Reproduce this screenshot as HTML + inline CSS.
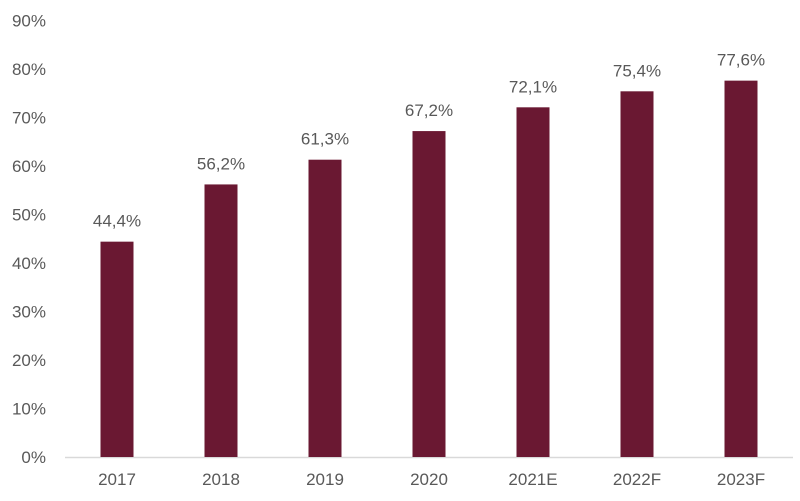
<!DOCTYPE html>
<html><head><meta charset="utf-8"><style>
body{margin:0;background:#fff;}
svg text{font-family:"Liberation Sans",sans-serif;fill:#595959;font-size:17px;}
</style></head><body>
<svg id="chart" width="800" height="496" xmlns="http://www.w3.org/2000/svg"></svg>
<script>
const categories=["2017","2018","2019","2020","2021E","2022F","2023F"];
const values=[44.4,56.2,61.3,67.2,72.1,75.4,77.6];
const valueLabels=["44,4%","56,2%","61,3%","67,2%","72,1%","75,4%","77,6%"];
const yTicks=[0,10,20,30,40,50,60,70,80,90];
const svg=document.getElementById('chart');
const NS="http://www.w3.org/2000/svg";
const left=65,right=793,base=457,pxPer=4.85;
const bw=(right-left)/categories.length,barW=33;
const y=v=>base-v*pxPer;
const xc=i=>left+bw*(i+0.5);
function mk(t,a,txt){const e=document.createElementNS(NS,t);for(const k in a)e.setAttribute(k,a[k]);if(txt!=null)e.textContent=txt;svg.appendChild(e);return e;}
yTicks.forEach(v=>{
 const t=mk('text',{x:46,y:y(v)+6,'text-anchor':'end'},v+'%');
 
 
});
const ax=mk('line',{x1:left,x2:right,y1:base+0.5,y2:base+0.5,stroke:'#d9d9d9','stroke-width':1.5});


categories.forEach((c,i)=>{
 const r=mk('rect',{x:xc(i)-barW/2,y:y(values[i]),width:barW,height:values[i]*pxPer,fill:'#6a1832'});
 
 
 const l=mk('text',{x:xc(i),y:y(values[i])-15,'text-anchor':'middle'},valueLabels[i]);
 
 
 const xl=mk('text',{x:xc(i),y:485,'text-anchor':'middle'},c);
 
 
});
</script>
</body></html>
